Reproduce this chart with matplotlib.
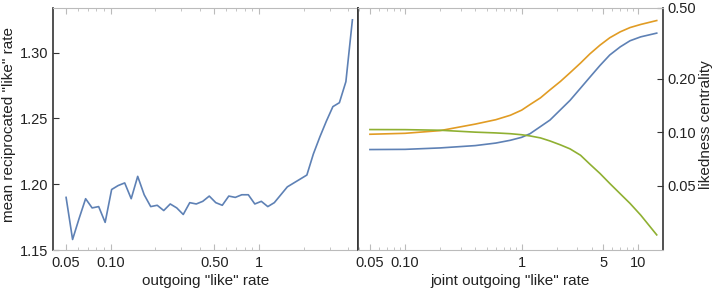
import matplotlib
matplotlib.use("Agg")
import matplotlib.pyplot as plt
from matplotlib.ticker import FixedLocator, NullFormatter, LogLocator, NullLocator

plt.rcParams['font.family'] = ['Liberation Sans', 'DejaVu Sans']

# left panel: mean reciprocated "like" rate vs outgoing "like" rate
out_rate = [0.0500, 0.0553, 0.0612, 0.0677, 0.0749, 0.0829, 0.0917, 0.1014, 0.1122,
            0.1242, 0.1374, 0.1520, 0.1681, 0.1860, 0.2058, 0.2277, 0.2519, 0.2787,
            0.3083, 0.3411, 0.3773, 0.4174, 0.4618, 0.5109, 0.5652, 0.6253, 0.6918,
            0.7653, 0.8467, 0.9367, 1.0362, 1.146, 1.268, 1.403, 1.552, 1.717, 1.900,
            2.102, 2.325, 2.572, 2.846, 3.148, 3.483, 3.853, 4.263]
recip_rate = [1.190, 1.158, 1.174, 1.189, 1.182, 1.183, 1.171, 1.196, 1.199,
              1.201, 1.189, 1.206, 1.192, 1.183, 1.184, 1.180, 1.185, 1.182,
              1.177, 1.186, 1.185, 1.187, 1.191, 1.186, 1.184, 1.191, 1.190,
              1.192, 1.192, 1.185, 1.187, 1.183, 1.186, 1.192, 1.198, 1.201, 1.204,
              1.207, 1.223, 1.236, 1.248, 1.259, 1.262, 1.278, 1.325]

# right panel: likedness centrality vs joint outgoing "like" rate
joint_rate = [0.05, 0.1, 0.2, 0.4, 0.6, 0.8, 1.0, 1.18, 1.45, 1.75, 2.15, 2.6, 3.2,
              3.85, 4.7, 5.7, 7.0, 8.5, 10.5, 14.4]
cent_blue = [0.0798, 0.0800, 0.0815, 0.0840, 0.0868, 0.0900, 0.0935, 0.0980, 0.1075,
             0.117, 0.1336, 0.151, 0.177, 0.204, 0.2375, 0.272, 0.302, 0.327, 0.344, 0.361]
cent_orange = [0.0973, 0.0985, 0.102, 0.111, 0.1175, 0.1245, 0.133, 0.143, 0.156,
               0.173, 0.193, 0.216, 0.245, 0.276, 0.309, 0.340, 0.367, 0.388, 0.404, 0.425]
cent_green = [0.1034, 0.1033, 0.1025, 0.100, 0.099, 0.098, 0.0967, 0.0952, 0.0928,
              0.0892, 0.0848, 0.0805, 0.0741, 0.066, 0.0585, 0.0514, 0.045, 0.0397,
              0.0341, 0.0264]

left_ticks = [0.05, 0.1, 0.5, 1]
left_ticklabels = ["0.05", "0.10", "0.50", "1"]
left_yticks = [1.15, 1.20, 1.25, 1.30]
right_ticks = [0.05, 0.1, 1, 5, 10]
right_ticklabels = ["0.05", "0.10", "1", "5", "10"]
right_yticks = [0.05, 0.1, 0.2, 0.5]

BLUE = "#5E81B5"
ORANGE = "#E19C24"
GREEN = "#8FB032"
DARK = "#333333"
LIGHT = "#bbbbbb"
FS = 10.5

fig = plt.figure(figsize=(7.18, 2.95), dpi=100)
ax1 = fig.add_axes([53 / 718, 45 / 295, 305 / 718, 242 / 295])
ax2 = fig.add_axes([358 / 718, 45 / 295, 305 / 718, 242 / 295])


def style(ax, dark_sides):
    for side in ["left", "right", "top", "bottom"]:
        ax.spines[side].set_color(DARK if side in dark_sides else LIGHT)
        ax.spines[side].set_linewidth(1.2 if side in dark_sides else 0.8)
    ax.tick_params(axis="x", which="both", direction="in", top=True, color=LIGHT,
                   labelsize=FS, labelcolor="#222222", pad=4)
    ax.tick_params(axis="x", which="major", length=4)
    ax.tick_params(axis="x", which="minor", length=2)
    ax.tick_params(axis="y", which="both", direction="in", color=DARK,
                   labelsize=FS, labelcolor="#222222", length=4)


# left
ax1.plot(out_rate, recip_rate, color=BLUE, lw=1.2)
ax1.set_xscale("log")
ax1.set_xlim(0.0408, 4.65)
ax1.set_ylim(1.15, 1.334)
ax1.xaxis.set_major_locator(FixedLocator(left_ticks))
ax1.set_xticklabels(left_ticklabels)
ax1.xaxis.set_minor_locator(LogLocator(base=10, subs=range(2, 10), numticks=20))
ax1.xaxis.set_minor_formatter(NullFormatter())
ax1.set_yticks(left_yticks)
ax1.set_yticklabels(["%.2f" % v for v in left_yticks])
style(ax1, ["left", "right"])
ax1.set_xlabel('outgoing "like" rate', fontsize=FS + 0.5, color="#222222", labelpad=3)
ax1.set_ylabel('mean reciprocated "like" rate', fontsize=FS + 0.5, color="#222222")
ax1.yaxis.set_label_coords(-0.122, 0.52)

# right
ax2.plot(joint_rate, cent_blue, color=BLUE, lw=1.2)
ax2.plot(joint_rate, cent_orange, color=ORANGE, lw=1.2)
ax2.plot(joint_rate, cent_green, color=GREEN, lw=1.2)
ax2.set_xscale("log")
ax2.set_yscale("log")
ax2.set_xlim(0.0395, 16.3)
ax2.set_ylim(0.0217, 0.5)
ax2.xaxis.set_major_locator(FixedLocator(right_ticks))
ax2.set_xticklabels(right_ticklabels)
ax2.xaxis.set_minor_locator(LogLocator(base=10, subs=range(2, 10), numticks=20))
ax2.xaxis.set_minor_formatter(NullFormatter())
ax2.yaxis.tick_right()
ax2.yaxis.set_major_locator(FixedLocator(right_yticks))
ax2.set_yticklabels(["%.2f" % v for v in right_yticks])
ax2.yaxis.set_minor_locator(NullLocator())
style(ax2, ["left", "right"])
ax2.tick_params(axis="y", which="both", left=False, right=True)
ax2.set_xlabel('joint outgoing "like" rate', fontsize=FS + 0.5, color="#222222", labelpad=3)
ax2.yaxis.set_label_position("right")
ax2.set_ylabel("likedness centrality", fontsize=FS + 0.5, color="#222222")
ax2.yaxis.set_label_coords(1.118, 0.52)

fig.savefig("out.png", dpi=100)
